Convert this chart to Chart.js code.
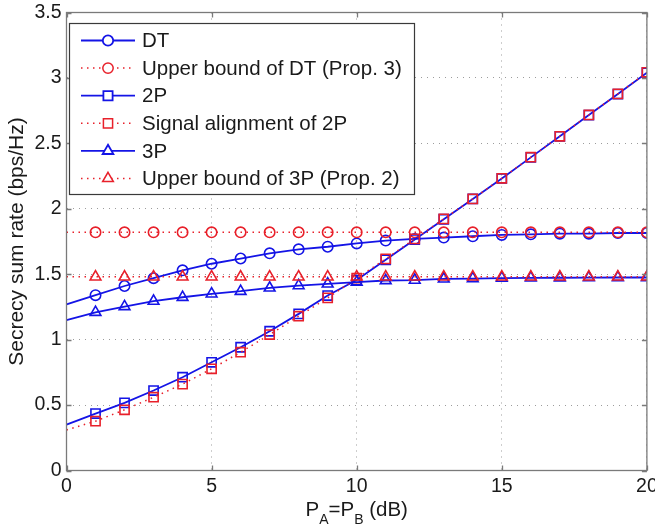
<!DOCTYPE html>
<html>
<head>
<meta charset="utf-8">
<script src="https://cdn.jsdelivr.net/npm/chart.js@4.4.1/dist/chart.umd.min.js"></script>
<style>
  html, body { margin: 0; padding: 0; background: #fff; }
  canvas { display: block; }
</style>
</head>
<body>
<canvas id="rate-chart" width="655" height="529"></canvas>
<script>
// Secrecy sum rate vs. transmit power (P_A = P_B), three relaying schemes + bounds.
const POWER_DB = [0, 1, 2, 3, 4, 5, 6, 7, 8, 9, 10, 11, 12, 13, 14, 15, 16, 17, 18, 19, 20];

const RATE_DT      = [1.27, 1.34, 1.41, 1.47, 1.53, 1.58, 1.62, 1.66, 1.69, 1.71, 1.735, 1.757, 1.77, 1.78, 1.79, 1.80, 1.805, 1.81, 1.81, 1.815, 1.815];
const BOUND_DT     = [1.82, 1.82, 1.82, 1.82, 1.82, 1.82, 1.82, 1.82, 1.82, 1.82, 1.82, 1.82, 1.82, 1.82, 1.82, 1.82, 1.82, 1.82, 1.82, 1.82, 1.82];
const RATE_2P      = [0.35, 0.435, 0.517, 0.611, 0.713, 0.827, 0.942, 1.064, 1.197, 1.337, 1.455, 1.61, 1.765, 1.92, 2.075, 2.232, 2.393, 2.554, 2.716, 2.877, 3.04];
const ALIGN_2P     = [0.31, 0.377, 0.464, 0.56, 0.66, 0.777, 0.904, 1.039, 1.179, 1.319, 1.47, 1.617, 1.77, 1.923, 2.076, 2.233, 2.394, 2.554, 2.717, 2.878, 3.043];
const RATE_3P      = [1.15, 1.209, 1.253, 1.294, 1.324, 1.35, 1.37, 1.395, 1.413, 1.426, 1.44, 1.452, 1.455, 1.464, 1.467, 1.47, 1.472, 1.473, 1.474, 1.475, 1.475];
const BOUND_3P     = [1.48, 1.48, 1.48, 1.48, 1.48, 1.48, 1.48, 1.48, 1.48, 1.48, 1.48, 1.48, 1.48, 1.48, 1.48, 1.48, 1.48, 1.48, 1.48, 1.48, 1.48];

const SERIES_LABELS = ['DT', 'Upper bound of DT (Prop. 3)', '2P', 'Signal alignment of 2P', '3P', 'Upper bound of 3P (Prop. 2)'];

const X_TICKS = [0, 5, 10, 15, 20];
const Y_TICKS = [0, 0.5, 1, 1.5, 2, 2.5, 3, 3.5];

const BLUE = '#1414e6';
const RED  = '#e8202a';
const FONT = "'Liberation Sans', Arial, sans-serif";
const AXIS_GRAY = '#7a7a7a';

const toPoints = ys => ys.map((y, i) => ({ x: POWER_DB[i], y }));
// no marker at 0 dB, the curves still start there
const markerRadius = r => ctx => (ctx.dataIndex === 0 ? 0 : r);

function series(idx, values, opts) {
  const dotted = opts.dotted;
  return {
    label: SERIES_LABELS[idx],
    data: toPoints(values),
    borderColor: dotted ? RED : BLUE,
    borderWidth: dotted ? 1.5 : 1.8,
    borderDash: dotted ? [1.5, 4.5] : [],
    pointStyle: opts.marker,
    pointRadius: markerRadius(opts.radius),
    pointHoverRadius: 0,
    pointBorderColor: dotted ? RED : BLUE,
    pointBackgroundColor: 'rgba(0,0,0,0)',
    pointBorderWidth: 1.6,
    fill: false,
    tension: 0,
    order: 10 - idx,   // later series drawn on top
    _radius: opts.radius,
  };
}

// box, inward ticks, axis titles and the boxed legend inside the plot
const frameAndLegend = {
  id: 'frameAndLegend',
  afterDraw(chart) {
    const { ctx, chartArea: a, scales } = chart;
    const xs = scales.x, ys = scales.y;
    ctx.save();

    // axes box
    ctx.strokeStyle = AXIS_GRAY;
    ctx.lineWidth = 1.3;
    ctx.setLineDash([]);
    ctx.strokeRect(a.left, a.top, a.right - a.left, a.bottom - a.top);

    // inward tick marks on all four sides
    const tl = 5;
    ctx.beginPath();
    X_TICKS.forEach(v => {
      const px = Math.round(xs.getPixelForValue(v)) + 0.5;
      ctx.moveTo(px, a.bottom); ctx.lineTo(px, a.bottom - tl);
      ctx.moveTo(px, a.top);    ctx.lineTo(px, a.top + tl);
    });
    Y_TICKS.forEach(v => {
      const py = Math.round(ys.getPixelForValue(v)) + 0.5;
      ctx.moveTo(a.left, py);  ctx.lineTo(a.left + tl, py);
      ctx.moveTo(a.right, py); ctx.lineTo(a.right - tl, py);
    });
    ctx.stroke();

    // y title
    ctx.fillStyle = '#1a1a1a';
    ctx.font = `21px ${FONT}`;
    ctx.textAlign = 'center';
    ctx.textBaseline = 'middle';
    ctx.save();
    ctx.translate(17, (a.top + a.bottom) / 2);
    ctx.rotate(-Math.PI / 2);
    ctx.fillText('Secrecy sum rate (bps/Hz)', 0, 0);
    ctx.restore();

    // x title with subscripts: P_A=P_B (dB)
    const parts = [
      { t: 'P', size: 20.5, dy: 0 },
      { t: 'A', size: 14, dy: 8 },
      { t: '=P', size: 20.5, dy: 0 },
      { t: 'B', size: 14, dy: 8 },
      { t: ' (dB)', size: 20.5, dy: 0 },
    ];
    ctx.textAlign = 'left';
    ctx.textBaseline = 'alphabetic';
    let total = 0;
    parts.forEach(p => { ctx.font = `${p.size}px ${FONT}`; p.w = ctx.measureText(p.t).width; total += p.w; });
    let cx = (a.left + a.right) / 2 - total / 2;
    const base = 516;
    parts.forEach(p => {
      ctx.font = `${p.size}px ${FONT}`;
      ctx.fillText(p.t, cx, base + p.dy);
      cx += p.w;
    });

    // legend
    const box = { x: 69.5, y: 23.5, w: 345, h: 171 };
    ctx.fillStyle = '#fff';
    ctx.fillRect(box.x, box.y, box.w, box.h);
    ctx.strokeStyle = '#3a3a3a';
    ctx.lineWidth = 1.2;
    ctx.strokeRect(box.x, box.y, box.w, box.h);

    const rowH = 27.6, firstRow = 40.5;
    const lineX0 = 81, lineX1 = 135, markX = 108, textX = 142;
    chart.data.datasets.forEach((ds, i) => {
      const y = firstRow + i * rowH;
      ctx.strokeStyle = ds.borderColor;
      ctx.lineWidth = ds.borderWidth;
      ctx.setLineDash(ds.borderDash);
      ctx.beginPath();
      ctx.moveTo(lineX0, y); ctx.lineTo(lineX1, y);
      ctx.stroke();
      ctx.setLineDash([]);
      ctx.strokeStyle = ds.pointBorderColor;
      ctx.fillStyle = '#fff';
      Chart.helpers.drawPoint(ctx, {
        pointStyle: ds.pointStyle, radius: ds._radius, rotation: 0, borderWidth: ds.pointBorderWidth,
      }, markX, y);
      ctx.fillStyle = '#1a1a1a';
      ctx.font = `20.5px ${FONT}`;
      ctx.textBaseline = 'middle';
      ctx.fillText(ds.label, textX, y + 1);
    });

    ctx.restore();
  },
};

new Chart(document.getElementById('rate-chart'), {
  type: 'line',
  data: {
    datasets: [
      series(0, RATE_DT,  { marker: 'circle',   radius: 5.2 }),
      series(1, BOUND_DT, { marker: 'circle',   radius: 5.2, dotted: true }),
      series(2, RATE_2P,  { marker: 'rect',     radius: 6.5 }),
      series(3, ALIGN_2P, { marker: 'rect',     radius: 6.5, dotted: true }),
      series(4, RATE_3P,  { marker: 'triangle', radius: 6.2 }),
      series(5, BOUND_3P, { marker: 'triangle', radius: 6.2, dotted: true }),
    ],
  },
  options: {
    responsive: false,
    animation: false,
    devicePixelRatio: 1,
    layout: { padding: { left: 0, right: 7.5, top: 12.5, bottom: 0 } },
    plugins: { legend: { display: false }, tooltip: { enabled: false } },
    scales: {
      x: {
        type: 'linear', min: 0, max: 20,
        afterBuildTicks: s => { s.ticks = X_TICKS.map(v => ({ value: v })); },
        afterFit: s => { s.height = 58.5; s.paddingLeft = 0; s.paddingRight = 0; },
        ticks: { color: '#1a1a1a', font: { family: FONT, size: 19.5 }, padding: 4, maxRotation: 0, callback: v => String(v) },
        grid: { color: 'rgba(90,90,90,0.6)', lineWidth: 1, drawTicks: false },
        border: { display: false, dash: [1, 5] },
      },
      y: {
        type: 'linear', min: 0, max: 3.5,
        afterBuildTicks: s => { s.ticks = Y_TICKS.map(v => ({ value: v })); },
        afterFit: s => { s.width = 66.5; s.paddingTop = 0; s.paddingBottom = 0; },
        ticks: { color: '#1a1a1a', font: { family: FONT, size: 19.5 }, padding: 5, callback: v => String(v) },
        grid: { color: 'rgba(90,90,90,0.6)', lineWidth: 1, drawTicks: false },
        border: { display: false, dash: [1, 5] },
      },
    },
  },
  plugins: [frameAndLegend],
});
</script>
</body>
</html>
